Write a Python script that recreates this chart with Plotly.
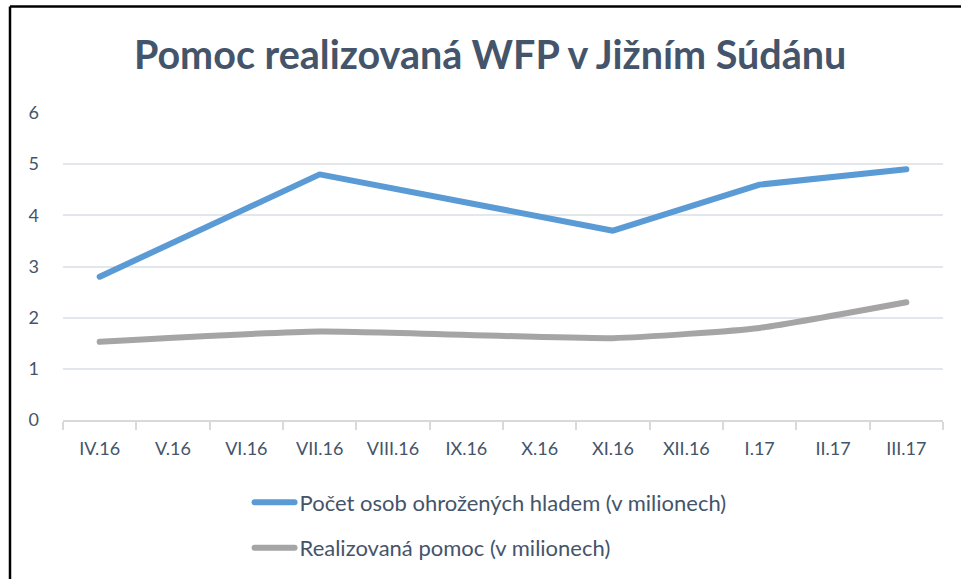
import plotly.graph_objects as go

categories = ["IV.16", "V.16", "VI.16", "VII.16", "VIII.16", "IX.16", "X.16",
              "XI.16", "XII.16", "I.17", "II.17", "III.17"]
hunger = [2.8, None, None, 4.8, None, None, None, 3.7, None, 4.6, None, 4.9]
aid = [1.53, None, None, 1.73, None, None, None, 1.6, None, 1.8, None, 2.3]
y_ticks = [0, 1, 2, 3, 4, 5, 6]

title_text = "Pomoc realizovaná WFP v Jižním Súdánu"
name_hunger = "Počet osob ohrožených hladem (v milionech)"
name_aid = "Realizovaná pomoc (v milionech)"

FONT = "Lato"
TXT = "#44546A"

fig = go.Figure()
fig.add_trace(go.Scatter(x=categories, y=hunger, mode="lines", name=name_hunger,
                         connectgaps=True, legendgroup="a",
                         line=dict(color="#5B9BD5", width=6)))
fig.add_trace(go.Scatter(x=categories, y=aid, mode="lines", name=name_aid,
                         connectgaps=True, legendgroup="b",
                         line=dict(color="#A5A5A5", width=6, shape="spline", smoothing=0.5)))

fig.update_layout(
    width=961, height=579,
    margin=dict(l=63, r=18, t=113, b=159, autoexpand=False),
    paper_bgcolor="white", plot_bgcolor="white",
    font=dict(family=FONT, color=TXT, size=18),
    title=dict(text=title_text, x=0.51, xanchor="center", y=1 - 55 / 579, yanchor="middle",
               yref="container", font=dict(family=FONT, size=39.5, color=TXT, weight="bold")),
    xaxis=dict(type="category", categoryorder="array", categoryarray=categories,
               range=[-0.5, 11.5], showgrid=False, showline=True, linecolor="#D9D9D9",
               linewidth=1.5, ticks="outside", tickson="boundaries", ticklen=8,
               tickcolor="#D9D9D9", tickwidth=1.5, ticklabelstandoff=12,
               tickfont=dict(size=18, color=TXT)),
    yaxis=dict(range=[0, 6], tickvals=y_ticks, showgrid=True, gridcolor="#E3E6EB",
               gridwidth=1.5, zeroline=False, showline=False, ticks="",
               ticklabelstandoff=23, tickfont=dict(size=18, color=TXT)),
    legend=dict(orientation="v", x=0.212, xanchor="left", y=-0.2, yanchor="top",
                tracegroupgap=14, font=dict(size=22, color=TXT), itemwidth=40),
    showlegend=True,
)

# outer chart frame (top and left edges visible)
fx = (10 - 63) / 880
fy = (420 - 6.5) / 307
fig.add_shape(type="line", xref="paper", yref="paper", x0=fx, x1=1.05, y0=fy, y1=fy,
              line=dict(color="black", width=2.5))
fig.add_shape(type="line", xref="paper", yref="paper", x0=fx, x1=fx, y0=fy, y1=-0.6,
              line=dict(color="black", width=2.5))

post = (
    "document.body.style.margin='0';"
    "document.querySelectorAll('.js-line, .legendlines path').forEach(function(p){"
    "p.style.strokeLinecap='round';p.style.strokeLinejoin='round';});"
)
fig.write_html("out.html", config={"displayModeBar": False}, post_script=post)
